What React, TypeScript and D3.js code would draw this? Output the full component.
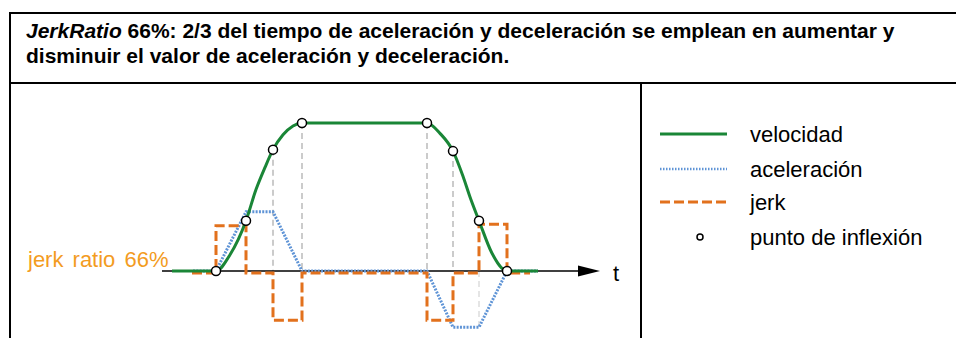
import React from "react";
import * as d3 from "d3";

// time in ms-like units along the axis, values in % of max velocity
const velocidad: [number, number][] = [
  [10, 0], [54, 0], [68, 11], [84, 34], [94, 55], [103, 70], [111, 82],
  [121, 92], [131, 98], [140, 100], [265, 100], [278, 93], [291, 81],
  [301, 64], [308, 50], [317, 34], [330, 12], [345, 0], [376, 0],
];
const aceleracion: [number, number][] = [
  [31, 0], [54, 0], [84, 40], [111, 40], [140, 0], [265, 0],
  [291, -38], [317, -38], [345, 0], [376, 0],
];
const jerk: [number, number][] = [
  [30, 0], [54, 0], [54, 32], [84, 32], [84, 0], [111, 0], [111, -32],
  [140, -32], [140, 0], [265, 0], [265, -32], [291, -32], [291, 0],
  [317, 0], [317, 33], [345, 33], [345, 0], [368, 0],
];
const inflexionT = [54, 84, 111, 140, 265, 291, 317, 345];
const inflexionV = [0, 34, 82, 100, 100, 81, 34, 0];
// guide lines: [t, from, to]
const guias: [number, number, number][] = [
  [111, 82, 0], [140, 100, -2], [265, 100, -2], [291, 81, 0], [317, 0, -38],
];
const leyenda = ["velocidad", "aceleración", "jerk", "punto de inflexión"];

const titulo1 = " 66%: 2/3 del tiempo de aceleración y deceleración se emplean en aumentar y";
const titulo2 = "disminuir el valor de aceleración y deceleración.";

const VERDE = "#1a8637";
const AZUL = "#5f94d6";
const NARANJA = "#e2711d";
const AMBAR = "#f39c1f";

export default function App() {
  const width = 956;
  const height = 338;

  const x = d3.scaleLinear().domain([0, 440]).range([162, 602]);
  const y = d3.scaleLinear().domain([0, 100]).range([271, 123]);

  const smooth = d3.line<[number, number]>()
    .x(d => x(d[0]))
    .y(d => y(d[1]))
    .curve(d3.curveMonotoneX);
  const straight = d3.line<[number, number]>()
    .x(d => x(d[0]))
    .y(d => y(d[1]));

  const font = "'Liberation Sans', Arial, sans-serif";
  const legendY = [134, 169, 202, 237];

  return (
    <svg width={width} height={height} style={{ position: "absolute", left: 0, top: 0 }}
      fontFamily={font}>
      <rect width={width} height={height} fill="#fff" />

      {/* table frame */}
      <line x1={9} x2={956} y1={13} y2={13} stroke="#000" strokeWidth={2} />
      <line x1={9} x2={956} y1={83} y2={83} stroke="#000" strokeWidth={2} />
      <line x1={10} x2={10} y1={12} y2={338} stroke="#000" strokeWidth={2} />
      <line x1={641} x2={641} y1={83} y2={338} stroke="#000" strokeWidth={2} />

      <text x={26} y={38} fontSize={21} fontWeight="bold">
        <tspan fontStyle="italic">JerkRatio</tspan>{titulo1}
      </text>
      <text x={26} y={63} fontSize={21} fontWeight="bold">{titulo2}</text>

      {/* guides */}
      {guias.map(([t, a, b], i) => (
        <line key={i} x1={x(t)} x2={x(t)} y1={y(a)} y2={y(b)}
          stroke={i === 4 ? "#ddd" : "#bbb"} strokeWidth={1.5} strokeDasharray="6,4" />
      ))}

      {/* time axis */}
      <line x1={x(0)} x2={x(418)} y1={y(0)} y2={y(0)} stroke="#000" strokeWidth={1.5} />
      <path d={`M${x(416)},${y(0) - 5.5}L${x(438)},${y(0)}L${x(416)},${y(0) + 5.5}Z`} fill="#000" />
      <text x={x(451)} y={y(0) + 10} fontSize={22}>t</text>

      <path d={straight(aceleracion) ?? ""} fill="none" stroke={AZUL} strokeWidth={3}
        strokeDasharray="2,1.3" />
      <path d={straight(jerk) ?? ""} fill="none" stroke={NARANJA} strokeWidth={3}
        strokeDasharray="10,4" transform="translate(0,2)" />
      <path d={smooth(velocidad) ?? ""} fill="none" stroke={VERDE} strokeWidth={3} />

      {inflexionT.map((t, i) => (
        <circle key={i} cx={x(t)} cy={y(inflexionV[i])} r={4.5} fill="#fff"
          stroke="#000" strokeWidth={1.5} />
      ))}

      <text x={28} y={267} fontSize={22} fill={AMBAR} wordSpacing={3}>jerk ratio 66%</text>

      {/* legend */}
      <line x1={660} x2={727} y1={legendY[0]} y2={legendY[0]} stroke={VERDE} strokeWidth={3} />
      <line x1={660} x2={727} y1={legendY[1]} y2={legendY[1]} stroke={AZUL} strokeWidth={2.5}
        strokeDasharray="1.5,1.5" />
      <line x1={660} x2={727} y1={legendY[2]} y2={legendY[2]} stroke={NARANJA} strokeWidth={3}
        strokeDasharray="10,4" />
      <circle cx={700} cy={legendY[3]} r={3} fill="#fff" stroke="#000" strokeWidth={1.5} />
      {leyenda.map((s, i) => (
        <text key={s} x={750} y={legendY[i] + 8} fontSize={22}>{s}</text>
      ))}
    </svg>
  );
}
